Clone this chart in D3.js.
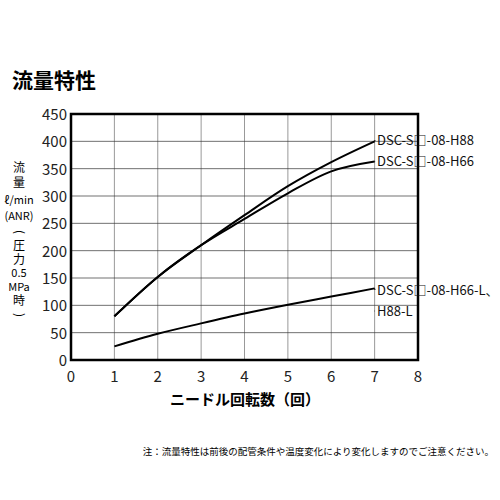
<!DOCTYPE html>
<html><head><meta charset="utf-8">
<script src="https://cdn.jsdelivr.net/npm/d3@7"></script>
<style>body{margin:0;background:#fff}text{font-family:"Noto Sans CJK JP","Liberation Sans",sans-serif}</style>
</head><body><svg id="c" width="500" height="500"></svg>
<script>
const turns=[1,2,3,4,5,6,7];
const h88=[80,152,210,265,318,362,400];
const h66=[80,152,210,258,305,345,363];
const hL=[25,48,67,85,101,116,131];
const xTicks=[0,1,2,3,4,5,6,7,8];
const yTicks=[0,50,100,150,200,250,300,350,400,450];
const labels=["DSC-S□-08-H88","DSC-S□-08-H66","DSC-S□-08-H66-L、","H88-L"];

const svg=d3.select("#c");
const x=d3.scaleLinear().domain([0,8]).range([71,418]);
const y=d3.scaleLinear().domain([0,450]).range([360,114]);
const LF='"Liberation Sans","Noto Sans CJK JP",sans-serif';

svg.append("text").attr("x",12).attr("y",88).attr("font-size",21).attr("font-weight","bold").text("流量特性");

const g=svg.append("g");
g.selectAll(".vg").data(xTicks.slice(1,-1)).join("line").attr("x1",d=>x(d)).attr("x2",d=>x(d)).attr("y1",y(450)).attr("y2",y(0)).attr("stroke","#999").attr("stroke-width",1);
g.selectAll(".hg").data(yTicks.slice(1,-1)).join("line").attr("x1",x(0)).attr("x2",x(8)).attr("y1",d=>y(d)).attr("y2",d=>y(d)).attr("stroke","#333").attr("stroke-width",0.7);
g.append("rect").attr("x",x(0)).attr("y",y(450)).attr("width",x(8)-x(0)).attr("height",y(0)-y(450)).attr("fill","none").attr("stroke","#000").attr("stroke-width",2.5);

g.selectAll(".yl").data(yTicks).join("text").attr("x",x(0)-4).attr("y",d=>y(d)+6).attr("text-anchor","end").attr("font-size",15).attr("font-family",LF).attr("fill","#222").text(d=>d);
g.selectAll(".xl").data(xTicks).join("text").attr("x",d=>x(d)).attr("y",382).attr("text-anchor","middle").attr("font-size",15).attr("font-family",LF).attr("fill","#222").text(d=>d);

svg.append("text").attr("x",245).attr("y",405).attr("text-anchor","middle").attr("font-size",15).attr("font-weight","bold").text("ニードル回転数（回）");

const yl=[["流",172],["量",187],["ℓ/min",204],["(ANR)",220],["(",236],["圧",250],["力",264],["0.5",277],["MPa",291],["時",305],[")",319]];
svg.selectAll(".ya").data(yl).join("text").attr("x",19).attr("y",d=>d[1]).attr("text-anchor","middle").attr("font-size",d=>d[0].length>2?11:12).attr("font-family",d=>d[0].length>2?LF:null).attr("transform",d=>d[0]==="("||d[0]===")"?`rotate(90,19,${d[1]-4})`:null).text(d=>d[0]);

const line=d3.line().x((d,i)=>x(turns[i])).y(d=>y(d)).curve(d3.curveMonotoneX);
[h88,h66,hL].forEach(s=>svg.append("path").attr("d",line(s)).attr("fill","none").attr("stroke","#000").attr("stroke-width",2));

const lab=[[h88,140,0],[h66,161,1],[hL,290,2]];
lab.forEach(([s,ty,i])=>{
  svg.append("line").attr("x1",x(7)).attr("y1",y(s[6])).attr("x2",375).attr("y2",ty).attr("stroke","#000").attr("stroke-width",1);
  svg.append("text").attr("x",377).attr("y",ty+5).attr("font-size",13).attr("font-family",LF).attr("fill","#111").text(labels[i]);
});
svg.append("line").attr("x1",x(7)).attr("y1",311).attr("x2",375).attr("y2",311).attr("stroke","#000").attr("stroke-width",1);
svg.append("text").attr("x",377).attr("y",316).attr("font-size",13).attr("font-family",LF).attr("fill","#111").text(labels[3]);

svg.append("text").attr("x",494).attr("y",455).attr("text-anchor","end").attr("font-size",9.5).text("注：流量特性は前後の配管条件や温度変化により変化しますのでご注意ください。");
</script></body></html>
